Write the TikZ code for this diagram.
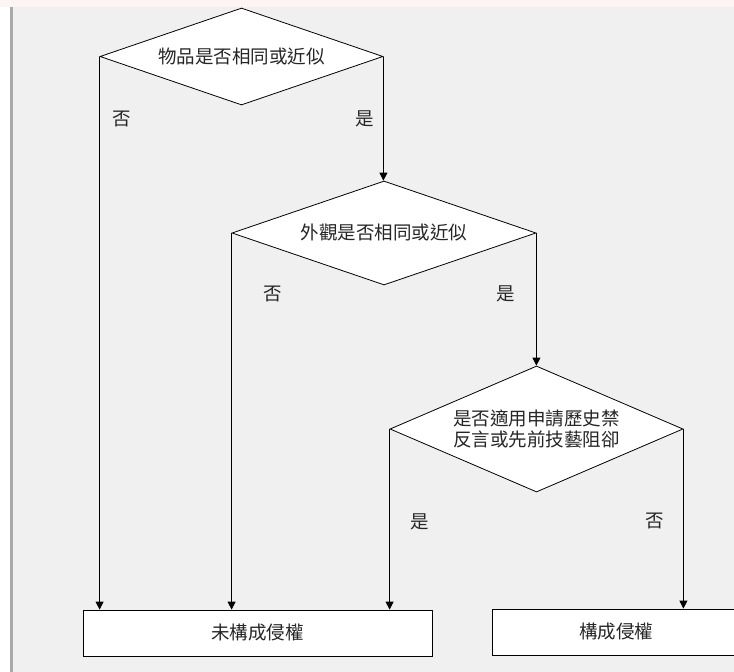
\documentclass[tikz,border=0pt]{standalone}
\usepackage{fontspec}
\setmainfont{Noto Sans CJK TC}
\usetikzlibrary{shapes.geometric,arrows.meta}
\definecolor{bg}{HTML}{F0F0F0}
\definecolor{edgegray}{HTML}{A8A8A8}
\definecolor{pinkstrip}{HTML}{FFF4F4}
\definecolor{txt}{HTML}{262626}
\begin{document}
\begin{tikzpicture}[x=1pt,y=-1pt,
  dec/.style={draw=black,fill=white,shape=diamond,inner sep=0pt,line width=0.8pt,align=center,text=txt},
  res/.style={draw=black,fill=white,rectangle,inner sep=0pt,line width=0.8pt,text=txt},
  lbl/.style={text=txt,inner sep=0pt},
  flow/.style={-{Triangle[width=8pt,length=8pt]},line width=0.8pt},
  font=\fontsize{18.5}{21}\selectfont]
\useasboundingbox (0,0) rectangle (734,672);
\clip (0,0) rectangle (734,672);
\fill[white] (0,0) rectangle (734,672);
\fill[pinkstrip] (0,0) rectangle (734,6.5);
\fill[bg] (12,6.5) rectangle (734,672);
\fill[edgegray] (10,6.5) rectangle (12.5,672);

% decisions
\node[dec,aspect=2.9,minimum width=283pt,minimum height=97pt] (d1) at (241.5,56.5) {物品是否相同或近似};
\node[dec,aspect=2.9,minimum width=304pt,minimum height=104pt] (d2) at (384,233) {外觀是否相同或近似};
\node[dec,aspect=2.3,minimum width=293pt,minimum height=126pt] (d3) at (536.5,429) {是否適用申請歷史禁\\反言或先前技藝阻卻};

% results
\node[res,minimum width=349pt,minimum height=46pt] (b1) at (257.5,633) {未構成侵權};
\node[res,minimum width=248pt,minimum height=46pt] (b2) at (616,632) {構成侵權};

% connectors
\draw[flow] (d1.west) -- (d1.west |- b1.north);
\draw[flow] (d1.east) -- (d1.east |- d2.north);
\draw[flow] (d2.west) -- (d2.west |- b1.north);
\draw[flow] (d2.east) -- (d2.east |- d3.north);
\draw[flow] (d3.west) -- (d3.west |- b1.north);
\draw[flow] (d3.east) -- (d3.east |- b2.north);

% labels
\node[lbl] (l1) at (122,119) {否};
\node[lbl] (l2) at (365,119) {是};
\node[lbl] (l3) at (273,294) {否};
\node[lbl] (l4) at (506,294) {是};
\node[lbl] (l5) at (420,522) {是};
\node[lbl] (l6) at (655,521) {否};
\end{tikzpicture}
\end{document}
